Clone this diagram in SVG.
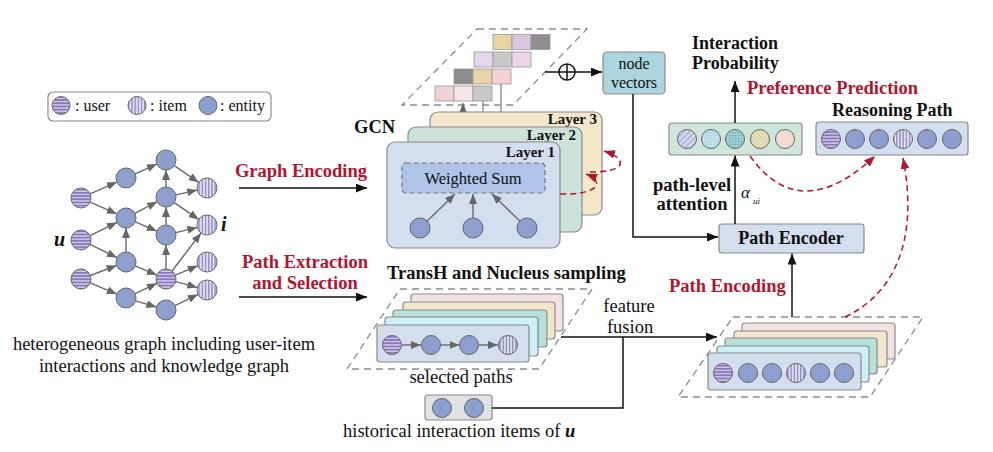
<svg xmlns="http://www.w3.org/2000/svg" width="993" height="452" viewBox="0 0 993 452" font-family="'Liberation Serif', 'DejaVu Serif', serif">
<style>
text{font-family:'Liberation Serif','DejaVu Serif',serif;fill:#111}
.b{font-weight:bold}
.red{fill:#b3142f;font-weight:bold;font-size:18.5px}
.lbl{font-size:18.5px}
.box{stroke:#8a8a8a;stroke-width:1.2}
.ent{fill:#8c9fcf;stroke:#666;stroke-width:1}
.usr{fill:url(#pu);stroke:#666;stroke-width:1}
.itm{fill:url(#pi);stroke:#666;stroke-width:1}
.ge{stroke:#6a6a6a;stroke-width:1.4;fill:none;marker-end:url(#ga)}
.fl{stroke:#111;stroke-width:1.5;fill:none}
.fa{marker-end:url(#ba)}
.rd{stroke:#b3142f;stroke-width:1.5;fill:none;stroke-dasharray:6 4;marker-end:url(#ra)}
.dash{fill:none;stroke:#8a8a8a;stroke-width:1.3;stroke-dasharray:7 5}
.cell{stroke:#9a9a9a;stroke-width:0.8}
.vl{stroke:#8a8a8a;stroke-width:1.4;fill:none}
</style>
<defs>
<pattern id="pu" width="4" height="3.2" patternUnits="userSpaceOnUse"><rect width="4" height="3.2" fill="#cfc6e6"/><rect width="4" height="1.7" fill="#8977b8"/></pattern>
<pattern id="pi" width="3.2" height="4" patternUnits="userSpaceOnUse"><rect width="3.2" height="4" fill="#e0e0f0"/><rect width="1.4" height="4" fill="#9390c2"/></pattern>
<pattern id="pa1" width="4" height="4" patternUnits="userSpaceOnUse" patternTransform="rotate(45)"><rect width="4" height="4" fill="#d8daf0"/><rect width="1.4" height="4" fill="#a6a8d6"/></pattern>
<pattern id="pa2" width="3" height="3" patternUnits="userSpaceOnUse"><rect width="3" height="3" fill="#bde0ec"/><rect width="1" height="1" fill="#a4cfe0"/></pattern>
<pattern id="pa3" width="3" height="3" patternUnits="userSpaceOnUse"><rect width="3" height="3" fill="#a3d2d8"/><rect width="3" height="0.8" fill="#86bcc4"/><rect width="0.8" height="3" fill="#86bcc4"/></pattern>
<pattern id="pa4" width="4" height="4" patternUnits="userSpaceOnUse"><rect width="4" height="4" fill="#ebe1b8"/><rect width="2" height="2" fill="#d6d6b0"/><rect x="2" y="2" width="2" height="2" fill="#d6d6b0"/></pattern>
<marker id="ga" viewBox="0 0 10 8" refX="10" refY="4" markerWidth="10" markerHeight="8" markerUnits="userSpaceOnUse" orient="auto"><path d="M0,0 L10,4 L0,8 z" fill="#666"/></marker>
<marker id="ba" viewBox="0 0 10 8" refX="10" refY="4" markerWidth="11" markerHeight="9" markerUnits="userSpaceOnUse" orient="auto"><path d="M0,0 L10,4 L0,8 z" fill="#111"/></marker>
<marker id="ra" viewBox="0 0 10 8" refX="10" refY="4" markerWidth="11" markerHeight="9" markerUnits="userSpaceOnUse" orient="auto"><path d="M0,0 L10,4 L0,8 z" fill="#b3142f"/></marker>
</defs>
<rect width="993" height="452" fill="#fff"/>

<!-- Legend -->
<g id="legend">
<rect x="48" y="92" width="223" height="29" rx="5" fill="#fff" stroke="#8a8a8a" stroke-width="1.2"/>
<circle class="usr" cx="61" cy="105.5" r="9"/>
<text x="75" y="111" font-size="16">: user</text>
<circle class="itm" cx="137" cy="105.5" r="9"/>
<text x="150" y="111" font-size="16">: item</text>
<circle class="ent" cx="208" cy="105.5" r="9"/>
<text x="220" y="111" font-size="16">: entity</text>
</g>

<!-- Heterogeneous graph -->
<g id="hetero-graph">
<g id="graph-edges">
<line class="ge" x1="90.1" y1="193.9" x2="116.9" y2="182.1"/>
<line class="ge" x1="135.1" y1="173.9" x2="156.9" y2="164.1"/>
<line class="ge" x1="174.3" y1="165.6" x2="198.7" y2="182.4"/>
<line class="ge" x1="90.1" y1="202.1" x2="116.9" y2="213.9"/>
<line class="ge" x1="134.9" y1="213.4" x2="157.1" y2="201.7"/>
<line class="ge" x1="166" y1="187" x2="166" y2="170"/>
<line class="ge" x1="175.8" y1="194.9" x2="197.2" y2="190.1"/>
<line class="ge" x1="174.3" y1="202.6" x2="198.7" y2="219.4"/>
<line class="ge" x1="135.2" y1="221.9" x2="156.8" y2="231.1"/>
<line class="ge" x1="166" y1="225" x2="166" y2="207"/>
<line class="ge" x1="175.7" y1="232.6" x2="197.3" y2="227.4"/>
<line class="ge" x1="90" y1="235.6" x2="117" y2="222.4"/>
<line class="ge" x1="90" y1="244.4" x2="117" y2="257.6"/>
<line class="ge" x1="126" y1="252" x2="126" y2="228"/>
<line class="ge" x1="135.2" y1="265.9" x2="156.8" y2="275.1"/>
<line class="ge" x1="166" y1="269" x2="166" y2="245"/>
<line class="ge" x1="172" y1="271" x2="201" y2="233"/>
<line class="ge" x1="175.2" y1="275.2" x2="197.8" y2="265.8"/>
<line class="ge" x1="175.7" y1="281.6" x2="197.3" y2="287.4"/>
<line class="ge" x1="90.4" y1="275.5" x2="116.6" y2="265.5"/>
<line class="ge" x1="90.2" y1="282.9" x2="116.8" y2="294.1"/>
<line class="ge" x1="135" y1="293.7" x2="157" y2="283.3"/>
<line class="ge" x1="135.6" y1="300.9" x2="156.4" y2="307.1"/>
<line class="ge" x1="175" y1="305.6" x2="198" y2="294.4"/>
</g>
<circle class="ent" cx="166" cy="160" r="10"/>
<circle class="ent" cx="126" cy="178" r="10"/>
<circle class="usr" cx="81" cy="198" r="10"/>
<circle class="ent" cx="166" cy="197" r="10"/>
<circle class="itm" cx="207" cy="188" r="10"/>
<circle class="ent" cx="126" cy="218" r="10"/>
<circle class="itm" cx="207" cy="225" r="10"/>
<circle class="usr" cx="81" cy="240" r="10"/>
<circle class="ent" cx="166" cy="235" r="10"/>
<circle class="ent" cx="126" cy="262" r="10"/>
<circle class="itm" cx="207" cy="262" r="10"/>
<circle class="usr" cx="81" cy="279" r="10"/>
<circle class="usr" cx="166" cy="279" r="10"/>
<circle class="itm" cx="207" cy="290" r="10"/>
<circle class="ent" cx="126" cy="298" r="10"/>
<circle class="ent" cx="166" cy="310" r="10"/>
<text x="54" y="246" font-size="20" font-weight="bold" font-style="italic">u</text>
<text x="221" y="231" font-size="20" font-weight="bold" font-style="italic">i</text>
<text x="164" y="350" class="lbl" text-anchor="middle">heterogeneous graph including user-item</text>
<text x="164" y="372" class="lbl" text-anchor="middle">interactions and knowledge graph</text>
</g>

<!-- Stage labels -->
<g id="graph-encoding-label">
<text x="301" y="177" class="red" text-anchor="middle">Graph Encoding</text>
</g>
<g id="path-extraction-label">
<text x="305" y="268" class="red" text-anchor="middle">Path Extraction</text>
<text x="305" y="289" class="red" text-anchor="middle">and Selection</text>
</g>

<!-- GCN -->
<g id="gcn">
<text x="354" y="133" font-size="18.5" class="b">GCN</text>
<polygon class="dash" points="477,29 587,29 513,105 402,105"/>
<line class="vl" x1="483" y1="127" x2="483" y2="101"/>
<line class="vl" x1="501" y1="112" x2="501" y2="84"/>
<line class="vl" x1="463" y1="142" x2="463" y2="103" marker-end="url(#ga)"/>
<g id="tensor">
<rect class="cell" x="493" y="34.5" width="19" height="15" fill="#e8d3a2"/>
<rect class="cell" x="512" y="34.5" width="19" height="15" fill="#d9c7e1"/>
<rect class="cell" x="531" y="34.5" width="19" height="15" fill="#8f8f8f"/>
<rect class="cell" x="474" y="52" width="19" height="15" fill="#e5d6eb"/>
<rect class="cell" x="493" y="52" width="19" height="15" fill="#c9c9c9"/>
<rect class="cell" x="512" y="52" width="19" height="15" fill="#efd4e8"/>
<rect class="cell" x="454" y="69" width="19" height="15" fill="#8c8c8c"/>
<rect class="cell" x="473" y="69" width="19" height="15" fill="#e7d5a7"/>
<rect class="cell" x="492" y="69" width="19" height="15" fill="#f2d2d3"/>
<rect class="cell" x="435" y="86" width="19" height="15" fill="#f2d1d3"/>
<rect class="cell" x="454" y="86" width="19" height="15" fill="#f7e7e9"/>
<rect class="cell" x="473" y="86" width="19" height="15" fill="#c9c9c9"/>
</g>
<rect class="box" x="430" y="112" width="172" height="103" rx="8" fill="#f4e7cc"/>
<text x="597" y="124" font-size="15" class="b" text-anchor="end">Layer 3</text>
<rect class="box" x="408" y="127" width="174" height="105" rx="8" fill="#cde3da"/>
<text x="576" y="140" font-size="15" class="b" text-anchor="end">Layer 2</text>
<rect class="box" x="387" y="142" width="173" height="106" rx="8" fill="#d3deee"/>
<text x="555" y="156.5" font-size="15" class="b" text-anchor="end">Layer 1</text>
<rect x="402" y="163" width="143" height="30" rx="4" fill="#adc3e8" stroke="#7a7a7a" stroke-width="1.2" stroke-dasharray="5 3"/>
<text x="473" y="184" font-size="16.5" text-anchor="middle">Weighted Sum</text>
<line class="ge" x1="427.2" y1="221" x2="455" y2="194"/>
<line class="ge" x1="473" y1="218" x2="473" y2="194"/>
<line class="ge" x1="519.8" y1="221" x2="492" y2="194"/>
<circle class="ent" cx="420" cy="228" r="10"/>
<circle class="ent" cx="473" cy="228" r="10"/>
<circle class="ent" cx="527" cy="228" r="10"/>
</g>

<!-- node vectors -->
<g id="node-vectors">
<rect class="box" x="603" y="52" width="62" height="42" rx="4" fill="#acd5df"/>
<text x="634" y="69" font-size="16" text-anchor="middle">node</text>
<text x="634" y="88" font-size="16" text-anchor="middle">vectors</text>
</g>

<!-- Output / attention -->
<g id="interaction-probability">
<text x="692" y="49" font-size="18" class="b">Interaction</text>
<text x="692" y="69" font-size="18" class="b">Probability</text>
</g>
<g id="preference-prediction-label">
<text x="747" y="94" class="red">Preference Prediction</text>
</g>
<g id="attention-vector">
<rect class="box" x="669" y="123" width="133" height="32" rx="3" fill="#d0e6da"/>
<circle cx="687" cy="139" r="9.5" fill="url(#pa1)" stroke="#666"/>
<circle cx="711" cy="139" r="9.5" fill="url(#pa2)" stroke="#666"/>
<circle cx="735" cy="139" r="9.5" fill="url(#pa3)" stroke="#666"/>
<circle cx="760" cy="139" r="9.5" fill="url(#pa4)" stroke="#666"/>
<circle cx="785" cy="139" r="9.5" fill="#f2dcd2" stroke="#666"/>
</g>
<g id="reasoning-path">
<text x="832" y="116" font-size="18" class="b">Reasoning Path</text>
<rect class="box" x="816" y="122" width="152" height="33" rx="3" fill="#d3deee"/>
<circle class="usr" cx="831" cy="139" r="9.5"/>
<circle class="ent" cx="855" cy="139" r="9.5"/>
<circle class="ent" cx="879" cy="139" r="9.5"/>
<circle class="itm" cx="903" cy="139" r="9.5"/>
<circle class="ent" cx="927" cy="139" r="9.5"/>
<circle class="ent" cx="952" cy="139" r="9.5"/>
</g>
<g id="path-level-attention">
<text x="692" y="191" font-size="18.5" class="b" text-anchor="middle">path-level</text>
<text x="692" y="210" font-size="18.5" class="b" text-anchor="middle">attention</text>
<text x="741" y="198" font-size="17" font-style="italic">α</text>
<text x="753" y="204" font-size="9" font-style="italic">ui</text>
</g>
<g id="path-encoder">
<rect class="box" x="719" y="224" width="145" height="29" rx="3" fill="#d3deee"/>
<text x="791" y="244" font-size="18" class="b" text-anchor="middle">Path Encoder</text>
</g>
<g id="path-encoding-label">
<text x="669" y="292" class="red">Path Encoding</text>
</g>

<!-- Selected paths -->
<g id="selected-paths">
<text x="387" y="279" font-size="18.5" class="b">TransH and Nucleus sampling</text>
<polygon class="dash" points="400,289 592,289 539,369 347,369"/>
<rect class="box" x="411" y="294" width="152" height="37" rx="3" fill="#f3e3e3"/>
<rect class="box" x="403" y="302" width="152" height="37" rx="3" fill="#f4e6cc"/>
<rect class="box" x="393" y="310" width="154" height="37" rx="3" fill="#b6e0d8"/>
<rect class="box" x="385" y="317" width="153" height="39" rx="3" fill="#cdf0f7"/>
<rect class="box" x="377" y="325" width="152" height="37" rx="3" fill="#d3deee"/>
<line class="ge" x1="401.5" y1="345" x2="421" y2="345"/>
<line class="ge" x1="440.5" y1="345" x2="459.5" y2="345"/>
<line class="ge" x1="478.5" y1="345" x2="498" y2="345"/>
<circle class="usr" cx="392" cy="345" r="9.5"/>
<circle class="ent" cx="431" cy="345" r="9.5"/>
<circle class="ent" cx="469" cy="345" r="9.5"/>
<circle class="itm" cx="508" cy="345" r="9.5"/>
<text x="461" y="383" class="lbl" text-anchor="middle">selected paths</text>
</g>

<!-- Historical items -->
<g id="historical-items">
<rect class="box" x="425" y="395" width="67" height="25" rx="3" fill="#e2e2e2"/>
<circle class="ent" cx="442" cy="408" r="9.5"/>
<circle class="ent" cx="474" cy="408" r="9.5"/>
<text x="343" y="437" class="lbl">historical interaction items of <tspan font-weight="bold" font-style="italic">u</tspan></text>
</g>

<g id="feature-fusion-label">
<text x="629" y="312" class="lbl" text-anchor="middle">feature</text>
<text x="630" y="333" class="lbl" text-anchor="middle">fusion</text>
</g>

<!-- Encoded path stack -->
<g id="encoded-paths">
<polygon class="dash" points="733,317 923,317 870,397 678,397"/>
<rect class="box" x="742" y="323" width="153" height="36" rx="3" fill="#f3e3e3"/>
<rect class="box" x="734" y="331" width="153" height="36" rx="3" fill="#f4e6cc"/>
<rect class="box" x="725" y="338" width="152" height="36" rx="3" fill="#b6e0d8"/>
<rect class="box" x="717" y="346" width="152" height="36" rx="3" fill="#cdf0f7"/>
<rect class="box" x="708" y="353" width="153" height="37" rx="3" fill="#d3deee"/>
<circle class="usr" cx="723" cy="373" r="9.5"/>
<circle class="ent" cx="748" cy="373" r="9.5"/>
<circle class="ent" cx="772" cy="373" r="9.5"/>
<circle class="itm" cx="796" cy="373" r="9.5"/>
<circle class="ent" cx="820" cy="373" r="9.5"/>
<circle class="ent" cx="844" cy="373" r="9.5"/>
</g>

<!-- Connectors -->
<g id="connectors">
<line class="fl fa" x1="239" y1="188" x2="367" y2="188"/>
<line class="fl fa" x1="239" y1="297" x2="367" y2="297"/>
<line class="fl" x1="545" y1="72" x2="559" y2="72"/>
<g id="oplus"><circle cx="567" cy="72" r="8" fill="#fff" stroke="#111" stroke-width="1.5"/><line x1="559" y1="72" x2="575" y2="72" stroke="#111" stroke-width="1.5"/><line x1="567" y1="64" x2="567" y2="80" stroke="#111" stroke-width="1.5"/></g>
<line class="fl fa" x1="575" y1="72" x2="602" y2="72"/>
<polyline class="fl fa" points="633,94 633,237 718,237"/>
<line class="fl fa" x1="735" y1="224" x2="735" y2="155.5"/>
<line class="fl fa" x1="735" y1="123" x2="735" y2="81"/>
<line class="fl fa" x1="792" y1="317" x2="792" y2="253.5"/>
<polyline class="fl" points="492,408 623,408 623,337"/>
<line class="fl fa" x1="561" y1="337" x2="717" y2="337"/>
<path class="rd" d="M560,194 C598,195 606,182 586,174"/>
<path class="rd" d="M590,172 C630,172 626,158 604,151"/>
<path class="rd" d="M750,156 Q800,226 875,156"/>
<path class="rd" d="M845,317 C898,292 918,235 903,158"/>
</g>
</svg>
